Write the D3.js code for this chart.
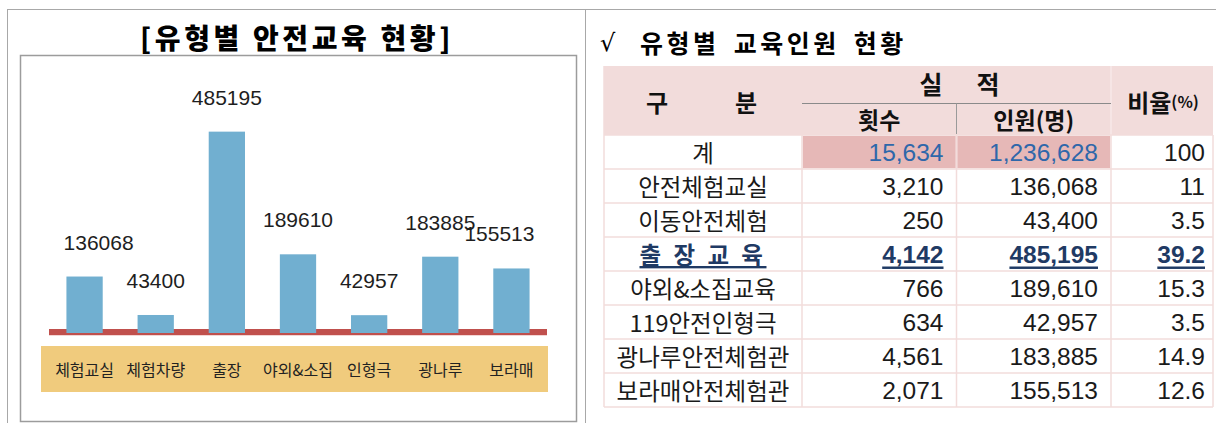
<!DOCTYPE html>
<html>
<head>
<meta charset="utf-8">
<script src="https://cdn.jsdelivr.net/npm/d3@7"></script>
<style>
  html, body { margin: 0; padding: 0; background: #fff; }
  svg { display: block; }
</style>
</head>
<body>
<div id="chart"></div>
<script>
// chart data
const categories = ["체험교실", "체험차량", "출장", "야외&소집", "인형극", "광나루", "보라매"];
const people = [136068, 43400, 485195, 189610, 42957, 183885, 155513];

// table data
const rowLabels = ["계", "안전체험교실", "이동안전체험", "출 장 교 육", "야외&소집교육", "119안전인형극", "광나루안전체험관", "보라매안전체험관"];
const sessions = [15634, 3210, 250, 4142, 766, 634, 4561, 2071];
const persons = [1236628, 136068, 43400, 485195, 189610, 42957, 183885, 155513];
const ratios = ["100", "11", "3.5", "39.2", "15.3", "3.5", "14.9", "12.6"];

const W = 1216, H = 423;
const KR = "'Noto Sans CJK KR', 'Noto Sans', sans-serif";
const NUM = "'Liberation Sans', Arial, sans-serif";

const svg = d3.select("#chart").append("svg")
    .attr("width", W).attr("height", H)
    .attr("viewBox", `0 0 ${W} ${H}`);

svg.append("rect").attr("width", W).attr("height", H).attr("fill", "#fff");

// outer frame lines
const frame = "#a8a8a8";
svg.append("line").attr("x1", 7).attr("x2", W).attr("y1", 9.5).attr("y2", 9.5).attr("stroke", frame);
svg.append("line").attr("x1", 7.5).attr("x2", 7.5).attr("y1", 9).attr("y2", H).attr("stroke", frame);
svg.append("line").attr("x1", 585.5).attr("x2", 585.5).attr("y1", 9).attr("y2", H).attr("stroke", frame);

// ---------- left: bar chart ----------
svg.append("text")
    .attr("x", 297).attr("y", 37)
    .attr("text-anchor", "middle").attr("dominant-baseline", "central")
    .attr("font-family", KR).attr("font-weight", 900)
    .attr("font-size", 28).attr("letter-spacing", 3.6)
    .text("[유형별 안전교육 현황]");

svg.append("rect")
    .attr("x", 20.5).attr("y", 55.5).attr("width", 556).attr("height", 366)
    .attr("fill", "none").attr("stroke", "#9c9c9c").attr("stroke-width", 1.5);

const x = d3.scaleBand().domain(categories).range([49, 547])
    .paddingInner(0.49).paddingOuter(0.245);
const y = d3.scaleLinear().domain([0, 600000]).range([333, 84]);

// category band
svg.append("rect")
    .attr("x", 41).attr("y", 346).attr("width", 507).attr("height", 46)
    .attr("fill", "#f0cb7d");

// red baseline
svg.append("rect")
    .attr("x", 49).attr("y", y(0) - 4).attr("width", 498).attr("height", 6)
    .attr("fill", "#c0504d");
svg.append("line")
    .attr("x1", 49).attr("x2", 547).attr("y1", y(0) + 2.5).attr("y2", y(0) + 2.5)
    .attr("stroke", "#f3d6d5").attr("stroke-width", 1);

svg.selectAll("rect.bar")
    .data(people)
    .enter().append("rect")
    .attr("class", "bar")
    .attr("x", (d, i) => x(categories[i]))
    .attr("width", x.bandwidth())
    .attr("y", d => y(d))
    .attr("height", d => y(0) - y(d))
    .attr("fill", "#71afd0");

// label nudges as in the original layout
const labelNudge = [14, 0, 0, 0, 0, 0, -12];
svg.selectAll("text.val")
    .data(people)
    .enter().append("text")
    .attr("class", "val")
    .attr("x", (d, i) => x(categories[i]) + x.bandwidth() / 2 + labelNudge[i])
    .attr("y", d => y(d) - 27)
    .attr("text-anchor", "middle")
    .attr("font-family", NUM).attr("font-size", 21)
    .attr("fill", "#1e1e1e")
    .text(d => d);

svg.selectAll("text.cat")
    .data(categories)
    .enter().append("text")
    .attr("class", "cat")
    .attr("x", d => x(d) + x.bandwidth() / 2)
    .attr("y", 369)
    .attr("text-anchor", "middle").attr("dominant-baseline", "central")
    .attr("font-family", KR).attr("font-size", 16)
    .attr("fill", "#222")
    .text(d => d);

// ---------- right: table ----------
svg.append("text")
    .attr("x", 600).attr("y", 43)
    .attr("dominant-baseline", "central")
    .attr("font-family", "'DejaVu Serif', serif").attr("font-size", 24)
    .text("√");
svg.append("text")
    .attr("x", 640).attr("y", 42)
    .attr("dominant-baseline", "central")
    .attr("font-family", KR).attr("font-weight", 700)
    .attr("font-size", 25).attr("letter-spacing", 3.5).attr("word-spacing", 5)
    .text("유형별 교육인원 현황");

const colEdges = [604, 802, 956.5, 1111, 1213];
const pads = [13, 13, 8];
const pink = "#f2dcdb";
const headTop = 66, headBot = 135;

svg.append("rect")
    .attr("x", colEdges[0]).attr("y", headTop)
    .attr("width", colEdges[4] - colEdges[0]).attr("height", headBot - headTop)
    .attr("fill", pink);
svg.append("line")
    .attr("x1", colEdges[3]).attr("x2", colEdges[3]).attr("y1", headTop).attr("y2", headBot)
    .attr("stroke", "#f7e8e8").attr("stroke-width", 1.5);
svg.append("line")
    .attr("x1", colEdges[1]).attr("x2", colEdges[3]).attr("y1", 103.5).attr("y2", 103.5)
    .attr("stroke", "#8a8a8a");
svg.append("line")
    .attr("x1", colEdges[2]).attr("x2", colEdges[2]).attr("y1", 103.5).attr("y2", headBot - 1)
    .attr("stroke", "#9a9a9a");

const head = svg.append("g")
    .attr("font-family", KR).attr("font-weight", 700)
    .attr("text-anchor", "middle").attr("dominant-baseline", "central")
    .attr("fill", "#111");
head.append("text").attr("x", 657).attr("y", 101).attr("font-size", 24).text("구");
head.append("text").attr("x", 746).attr("y", 101).attr("font-size", 24).text("분");
head.append("text").attr("x", 931).attr("y", 83).attr("font-size", 25).text("실");
head.append("text").attr("x", 988).attr("y", 83).attr("font-size", 25).text("적");
head.append("text").attr("x", (colEdges[1] + colEdges[2]) / 2).attr("y", 119).attr("font-size", 23).text("횟수");
head.append("text").attr("x", (colEdges[2] + colEdges[3]) / 2).attr("y", 119).attr("font-size", 23).text("인원(명)");
const ratioHead = head.append("text").attr("x", 1163).attr("y", 101).attr("font-size", 24);
ratioHead.append("tspan").text("비율");
ratioHead.append("tspan").attr("font-size", 16).text("(%)");

const rows = d3.scaleBand().domain(d3.range(rowLabels.length)).range([headBot, 407]);
const fmt = d3.format(",");

// total row highlight
[1, 2].forEach(c => {
    svg.append("rect")
        .attr("x", colEdges[c] + 0.75).attr("y", rows(0) + 0.75)
        .attr("width", colEdges[c + 1] - colEdges[c] - 1.5).attr("height", rows.bandwidth() - 1.5)
        .attr("fill", "#e6b8b7");
});

// grid
const grid = svg.append("g").attr("stroke", pink).attr("stroke-width", 1.5);
rows.domain().concat([rowLabels.length]).forEach(i => {
    const yy = i < rowLabels.length ? rows(i) : rows(i - 1) + rows.bandwidth();
    grid.append("line").attr("x1", colEdges[0]).attr("x2", colEdges[4]).attr("y1", yy).attr("y2", yy);
});
colEdges.forEach(cx => {
    grid.append("line").attr("x1", cx).attr("x2", cx).attr("y1", headBot).attr("y2", 407);
});
grid.append("line").attr("x1", colEdges[0]).attr("x2", colEdges[0]).attr("y1", headTop).attr("y2", headBot);

const body = svg.append("g").attr("dominant-baseline", "central");
rowLabels.forEach((lab, i) => {
    const cy = rows(i) + rows.bandwidth() / 2;
    const special = i === 3;
    const color = special ? "#1f3a64" : "#1a1a1a";
    const numColor = i === 0 ? "#2e67aa" : color;
    const weight = special ? 700 : 400;
    const deco = special ? "underline" : "none";

    body.append("text")
        .attr("x", (colEdges[0] + colEdges[1]) / 2).attr("y", cy)
        .attr("text-anchor", "middle")
        .attr("font-family", KR).attr("font-size", 23.5).attr("font-weight", weight)
        .attr("letter-spacing", special ? 3.5 : 0)
        .style("text-decoration", deco)
        .attr("fill", color)
        .text(lab);

    const cells = [fmt(sessions[i]), fmt(persons[i]), ratios[i]];
    cells.forEach((v, c) => {
        body.append("text")
            .attr("x", colEdges[c + 2] - pads[c]).attr("y", cy)
            .attr("text-anchor", "end")
            .attr("font-family", NUM).attr("font-size", 24.5).attr("font-weight", weight)
            .style("text-decoration", deco)
            .attr("fill", c < 2 ? numColor : color)
            .text(v);
    });
});
</script>
</body>
</html>
